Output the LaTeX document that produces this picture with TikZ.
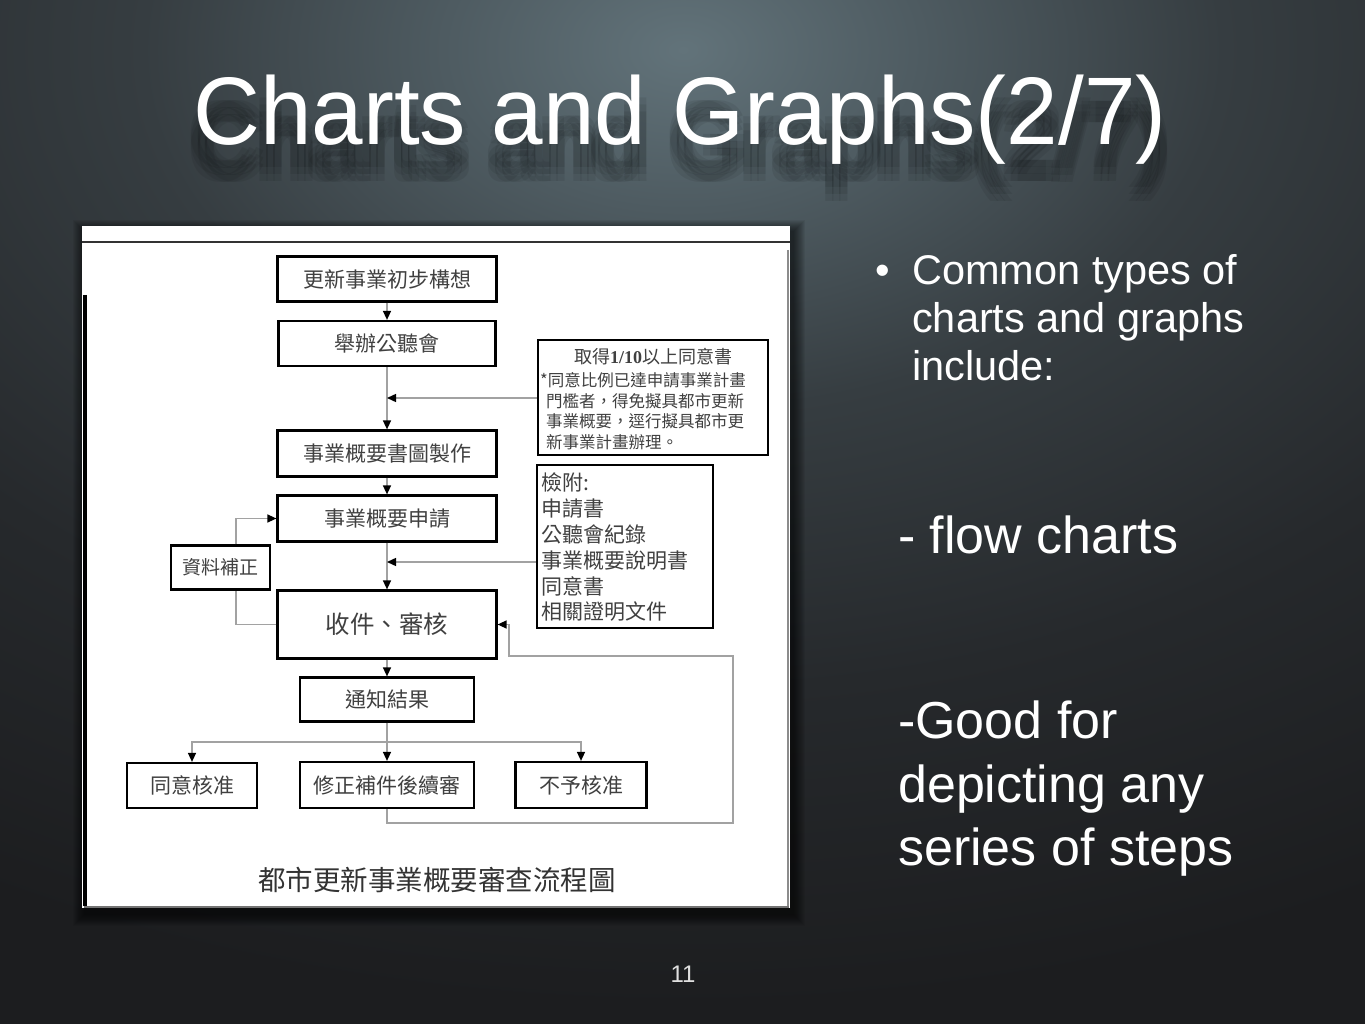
\documentclass[tikz,border=0pt]{standalone}
\usepackage{fontspec}
\setmainfont{Liberation Sans}
\newfontfamily\cjk{Noto Sans CJK TC}
\newfontfamily\lserif{Liberation Serif}
\usetikzlibrary{arrows.meta}
\definecolor{bgA}{HTML}{62737A}
\definecolor{bgB}{HTML}{4E5B61}
\definecolor{bgC}{HTML}{363D41}
\definecolor{bgD}{HTML}{26292C}
\definecolor{bgE}{HTML}{1C1D1F}
\definecolor{boxtext}{HTML}{404040}
\definecolor{linegray}{HTML}{A2A2A2}
\pgfdeclareradialshading{bgrad}{\pgfpointorigin}{color(0bp)=(bgA); color(4bp)=(bgB); color(9bp)=(bgC); color(16bp)=(bgD); color(24bp)=(bgE); color(50bp)=(bgE)}
\newcommand\setfs[1]{\fontsize{#1pt}{#1pt}\selectfont}
\tikzset{
  box/.style={draw=black, line width=2.2pt, fill=white, inner sep=0pt, text=boxtext, font={\cjk\setfs{21}}},
  conn/.style={draw=linegray, line width=1.4pt},
  arr/.style={conn, -{Triangle[length=9pt,width=8pt,color=black]}},
  body/.style={font=\setfs{41.5}, text=white, anchor=base west, inner sep=0pt},
  bigbody/.style={font=\setfs{52}, text=white, anchor=base west, inner sep=0pt},
  shadowtext/.style={text=black, text opacity=0.07, inner sep=0pt},
  titlefont/.style={font=\setfs{96}, anchor=base, inner sep=0pt}
}
\begin{document}
\begin{tikzpicture}[x=1pt, y=-1pt]
\useasboundingbox (0,0) rectangle (1365,1024);
% background
\begin{scope}
  \clip (0,0) rectangle (1365,1024);
  \fill[bgE] (0,0) rectangle (1365,1024);
  \shade[shading=bgrad] (683,50) ellipse [x radius=1500, y radius=1000];
\end{scope}
% title shadow + title
\foreach \dx in {-7,0,7} \foreach \dy in {23,30,37}
  \node[titlefont, shadowtext] at (680+\dx,145+\dy) {\scalebox{0.965}[1]{Charts and Graphs(2/7)}};
\node[titlefont, text=white] (title) at (680,145) {\scalebox{0.965}[1]{Charts and Graphs(2/7)}};

% panel shadow
\foreach \i in {1,...,12}
  \fill[black, opacity=0.06] (82-\i+3,227-\i+5) rectangle (790+\i+3,908+\i+6);
% panel
\fill[white] (82,226) rectangle (790,908);
\draw[black!80, line width=1.5pt] (82,242) -- (790,242);
\draw[black, line width=4pt] (85,295) -- (85,906);
\draw[black!45, line width=1.2pt] (788,250) -- (788,906);
\draw[black!55, line width=1.5pt] (84,907) -- (789,907);

% flow chart boxes
\node[box, minimum width=219pt, minimum height=45pt] (b1) at (387,279) {更新事業初步構想};
\node[box, minimum width=217pt, minimum height=45pt] (b2) at (387,343.5) {舉辦公聽會};
\node[box, minimum width=219pt, minimum height=46pt] (b3) at (387,453.5) {事業概要書圖製作};
\node[box, minimum width=219pt, minimum height=46pt] (b4) at (387,518.5) {事業概要申請};
\node[box, minimum width=219pt, minimum height=68pt, font={\cjk\setfs{24.5}}] (b5) at (387,624.5) {收件、審核};
\node[box, minimum width=174pt, minimum height=44pt] (b6) at (387,699.5) {通知結果};
\node[box, minimum width=130pt, minimum height=45pt] (b7) at (192,785.5) {同意核准};
\node[box, minimum width=174pt, minimum height=46pt] (b8) at (387,785) {修正補件後續審};
\node[box, minimum width=131pt, minimum height=46pt] (b9) at (581,785) {不予核准};
\node[box, minimum width=99pt, minimum height=44pt, font={\cjk\setfs{19}}] (fix) at (220.5,567.5) {資料補正};
\node[box, minimum width=230pt, minimum height=115pt] (rbox) at (653,397.5) {};
\node[box, minimum width=176pt, minimum height=163pt] (lbox) at (625,546.5) {};

% box texts
\node[font={\cjk\setfs{18}}, text=boxtext, inner sep=0pt] (rt1) at (653,357) {取得{\lserif\bfseries 1/10}以上同意書};
\node[font={\cjk\fontsize{16.5pt}{20.6pt}\selectfont}, text=boxtext, align=left, anchor=west, inner sep=0pt] (rt2) at (540,411)
  {*同意比例已達申請事業計畫\\\hspace*{6pt}門檻者，得免擬具都市更新\\\hspace*{6pt}事業概要，逕行擬具都市更\\\hspace*{6pt}新事業計畫辦理。};
\node[font={\cjk\fontsize{21pt}{25.8pt}\selectfont}, text=boxtext, align=left, anchor=west, inner sep=0pt] (lt) at (541,547.5)
  {檢附:\\申請書\\公聽會紀錄\\事業概要說明書\\同意書\\相關證明文件};
\node[font={\cjk\setfs{27.5}}, text=black!80, inner sep=0pt] (cap) at (437,880) {都市更新事業概要審查流程圖};

% connectors
\coordinate (j1) at (387,398);
\coordinate (j2) at (387,562);
\coordinate (br) at (387,742);
\coordinate (lx) at (236,0);
\coordinate (rl1) at (733,823);
\coordinate (rl2) at (733,656);
\coordinate (rl3) at (509,656);
\draw[arr] (b1) -- (b2);
\draw[arr] (b2) -- (b3);
\draw[arr] (rbox.west |- j1) -- (j1);
\draw[arr] (b3) -- (b4);
\draw[arr] (b4) -- (b5);
\draw[arr] (lbox.west |- j2) -- (j2);
\draw[arr] (b5) -- (b6);
\draw[conn] (b6) -- (br);
\draw[arr] (br) -| (b7.north);
\draw[arr] (br) -- (b8.north);
\draw[arr] (br) -| (b9.north);
\draw[conn] (b5.west) -- (lx |- b5.west) -- (lx |- fix.south);
\draw[arr] (lx |- fix.north) |- (b4.west);
\draw[arr] (b8.south) |- (rl1) -- (rl2) -- (rl3) |- (b5.east);

% right text
\node[body, anchor=base] (bul) at (883,284) {•};
\node[body] (c1) at (912,284) {Common types of};
\node[body] (c2) at (912,332) {charts and graphs};
\node[body] (c3) at (912,380) {include:};
\node[bigbody] (f1) at (898,553) {- flow charts};
\node[bigbody] (g1) at (898,738) {-Good for};
\node[bigbody] (g2) at (898,802) {depicting any};
\node[bigbody] (g3) at (898,865) {series of steps};
\node[font=\setfs{24}, text=white!88!black, anchor=base, inner sep=0pt] (pn) at (683,982) {11};
\end{tikzpicture}
\end{document}
